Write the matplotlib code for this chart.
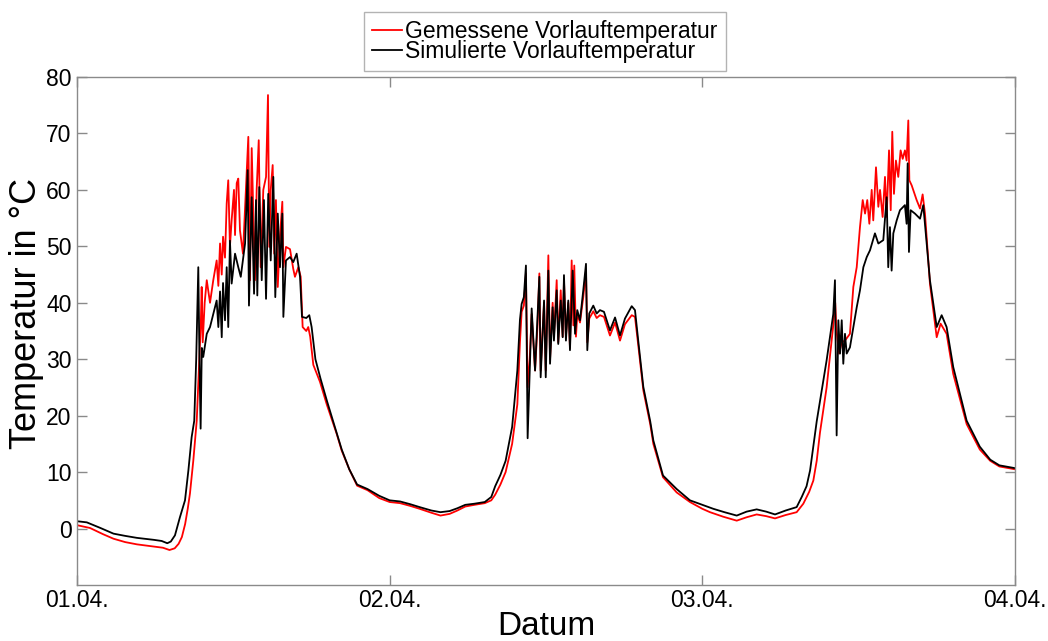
import matplotlib
matplotlib.use("Agg")
import matplotlib.pyplot as plt

# ---- data: (hour since 01.04. 00:00, temperature in °C) ----
gemessen_tag1 = [(0.0, 0.6), (1.0, 0.1), (2.0, -1.0), (2.8, -1.8), (3.7, -2.4), (4.6, -2.8), (5.9, -3.2),
                 (6.6, -3.4), (7.1, -3.8), (7.5, -3.5), (7.8, -2.7), (8.05, -1.5), (8.3, 0.8), (8.5, 3.5),
                 (8.67, 6.2), (8.93, 12.1), (9.19, 19.1), (9.35, 28), (9.5, 36), (9.57, 42.8), (9.65, 33),
                 (9.8, 40), (9.96, 44), (10.21, 40), (10.46, 44), (10.72, 47.5), (10.85, 43), (10.98, 50.5),
                 (11.11, 45), (11.21, 51.7), (11.36, 48), (11.49, 57.6), (11.61, 61.7), (11.74, 50),
                 (11.87, 54.6), (12.05, 60), (12.13, 52), (12.26, 61.2), (12.38, 62), (12.51, 52.8),
                 (12.74, 48.7), (13.15, 69.4), (13.28, 44), (13.41, 67.4), (13.66, 44), (13.79, 60),
                 (13.95, 68.8), (14.10, 46.3), (14.30, 60), (14.51, 62.3), (14.66, 76.8), (14.76, 49.9),
                 (14.87, 60), (15.02, 64.4), (15.14, 48.7), (15.27, 58.2), (15.41, 42.8), (15.58, 51.7),
                 (15.76, 57.9), (15.84, 46.3), (16.04, 49.9), (16.35, 49.5), (16.6, 46), (16.73, 44.6),
                 (16.99, 46.3), (17.17, 44.6), (17.32, 35.7), (17.6, 35.0), (17.75, 35.7), (17.9, 34),
                 (18.14, 29), (18.65, 26), (19.17, 22), (19.93, 16.8), (20.32, 13.8), (20.9, 10.5),
                 (21.5, 7.6), (22.3, 6.8), (23.2, 5.4)]
gemessen_tag2 = [(24.0, 4.7), (24.8, 4.5), (25.6, 4.0), (26.3, 3.5), (27.2, 2.8), (27.9, 2.3), (28.6, 2.6),
                 (29.2, 3.2), (29.8, 3.9), (30.5, 4.2), (31.3, 4.5), (31.8, 5.0), (32.1, 6.0), (32.5, 7.8),
                 (32.9, 10), (33.4, 15), (33.8, 22), (34.0, 33), (34.13, 38.4), (34.3, 39.5), (34.46, 45.2),
                 (34.59, 25), (34.75, 30), (34.90, 38), (35.16, 28), (35.35, 36), (35.49, 45.2), (35.59, 28),
                 (35.85, 40), (35.98, 28), (36.18, 48.4), (36.31, 30), (36.51, 40), (36.61, 34), (36.82, 44),
                 (36.94, 33), (37.13, 42.2), (37.28, 34), (37.38, 44), (37.53, 34), (37.71, 40), (37.84, 32),
                 (37.97, 47.5), (38.1, 36), (38.17, 46.6), (38.3, 34), (38.40, 38), (38.61, 36.5), (38.86, 41),
                 (39.07, 45.7), (39.17, 33), (39.32, 37.2), (39.63, 38.5), (39.89, 37.3), (40.14, 37.8),
                 (40.45, 37.5), (40.91, 34.2), (41.30, 36.5), (41.68, 33.3), (42.06, 36.2), (42.58, 37.8),
                 (42.83, 37.5), (43.08, 32.5), (43.47, 24.5), (44.0, 18.5), (44.24, 15), (44.98, 9.1),
                 (46.03, 6.4), (47.05, 4.7)]
gemessen_tag3 = [(48.0, 3.5), (48.59, 2.9), (49.6, 2.1), (50.64, 1.4), (51.4, 2.0), (52.17, 2.5), (52.9, 2.2),
                 (53.58, 1.8), (54.4, 2.4), (55.24, 2.9), (55.75, 4.4), (56.2, 6.5), (56.52, 8.5), (56.78, 12),
                 (57.03, 17), (57.54, 25), (58.05, 36), (58.2, 40), (58.3, 35), (58.5, 31), (58.7, 33),
                 (58.95, 33.3), (59.33, 34.5), (59.59, 42.8), (59.85, 46.3), (60.10, 53.4), (60.31, 58.2),
                 (60.49, 55.8), (60.66, 58.2), (60.82, 54), (61.00, 60), (61.12, 54.6), (61.33, 64),
                 (61.51, 57), (61.64, 60), (61.84, 55.2), (62.02, 62.3), (62.15, 55.2), (62.33, 67),
                 (62.46, 56.4), (62.58, 70.3), (62.71, 59.3), (62.86, 65.2), (63.04, 62.3), (63.22, 67),
                 (63.38, 65.5), (63.55, 67), (63.68, 65.2), (63.81, 72.3), (63.89, 61.7), (64.07, 60.8),
                 (64.45, 58.2), (64.71, 56.7), (64.91, 59.2), (65.09, 55.8), (65.47, 43.4), (65.99, 33.9),
                 (66.29, 36.3), (66.75, 34.5), (67.26, 27.4), (68.29, 18.5), (69.3, 14), (70.1, 12),
                 (70.8, 11), (72.0, 10.5)]

simuliert_tag1 = [(0.0, 1.3), (0.75, 1.1), (1.8, 0.1), (2.8, -0.9), (3.7, -1.3), (4.6, -1.65), (5.9, -2.0),
                  (6.5, -2.2), (6.93, -2.6), (7.2, -2.3), (7.52, -1.2), (7.9, 2.0), (8.29, 5), (8.55, 10.3),
                  (8.8, 16.2), (9.0, 19.1), (9.15, 30), (9.31, 46.3), (9.40, 30), (9.49, 17.7), (9.58, 32),
                  (9.69, 30.4), (9.96, 34.5), (10.21, 35.7), (10.46, 38), (10.72, 40.4), (10.85, 35.7),
                  (10.98, 42), (11.11, 33.9), (11.21, 43.5), (11.36, 36.9), (11.49, 46.3), (11.61, 35.7),
                  (11.74, 51), (11.87, 43.4), (12.13, 48.7), (12.38, 46.3), (12.57, 44.6), (12.90, 50.5),
                  (13.10, 63.5), (13.20, 39.5), (13.41, 58.7), (13.59, 41.6), (13.74, 58.2), (13.84, 41.3),
                  (13.99, 60.5), (14.18, 44), (14.35, 58.2), (14.51, 40.7), (14.68, 59.3), (14.87, 47.5),
                  (15.07, 62.3), (15.22, 41), (15.41, 55.8), (15.58, 46.3), (15.76, 55.8), (15.84, 37.5),
                  (16.04, 47.5), (16.35, 48.1), (16.60, 47.2), (16.86, 48.7), (17.12, 44.6), (17.27, 37.5),
                  (17.6, 37.3), (17.83, 37.8), (18.01, 35.7), (18.3, 30), (18.7, 26.5), (19.2, 22.5),
                  (19.93, 17), (20.32, 14), (20.9, 10.5), (21.5, 7.8), (22.3, 7.0), (23.2, 5.8)]
simuliert_tag2 = [(24.0, 5.0), (24.8, 4.8), (25.6, 4.3), (26.3, 3.8), (27.2, 3.2), (27.9, 2.9), (28.6, 3.1),
                  (29.2, 3.6), (29.8, 4.2), (30.5, 4.4), (31.3, 4.7), (31.8, 5.6), (32.1, 7.5), (32.5, 9.5),
                  (32.9, 12), (33.4, 18), (33.8, 28), (34.0, 37), (34.13, 39.8), (34.3, 41), (34.46, 46.6),
                  (34.59, 16), (34.90, 39), (35.16, 28), (35.49, 44.6), (35.59, 26.8), (35.85, 40.4),
                  (35.98, 26.8), (36.18, 45.7), (36.31, 29.2), (36.51, 39.2), (36.61, 33.3), (36.82, 42.2),
                  (36.94, 32.7), (37.13, 40.4), (37.28, 33.9), (37.38, 44.9), (37.53, 33.3), (37.71, 40.4),
                  (37.84, 31.6), (38.05, 45.7), (38.23, 34.5), (38.40, 38.7), (38.61, 36.9), (38.86, 42.2),
                  (39.07, 46.9), (39.17, 31.6), (39.32, 38.1), (39.63, 39.5), (39.89, 38.1), (40.14, 38.7),
                  (40.45, 38.4), (40.91, 35.1), (41.30, 37.4), (41.68, 34.2), (42.06, 37.2), (42.58, 39.4),
                  (42.83, 38.7), (43.08, 33.3), (43.47, 25.1), (44.0, 19), (44.24, 15.6), (44.98, 9.4),
                  (46.03, 7.0), (47.05, 5.0)]
simuliert_tag3 = [(48.0, 4.2), (48.84, 3.5), (49.7, 2.9), (50.64, 2.3), (51.4, 3.0), (52.17, 3.4), (52.9, 3.0),
                  (53.58, 2.5), (54.4, 3.2), (55.24, 3.8), (55.63, 5.6), (56.0, 7.5), (56.27, 10.3),
                  (56.78, 19), (57.54, 29.8), (58.05, 38), (58.18, 44), (58.31, 16.5), (58.44, 36.9),
                  (58.57, 31), (58.70, 36.9), (58.82, 29.2), (58.95, 34.5), (59.08, 31), (59.33, 32.1),
                  (59.59, 35.7), (59.85, 39.2), (60.10, 42.2), (60.36, 46.3), (60.62, 48.1), (60.87, 49.3),
                  (61.25, 52.3), (61.51, 50.5), (61.89, 51.1), (62.15, 58.7), (62.27, 46.3), (62.40, 53.4),
                  (62.53, 45.7), (62.66, 52.3), (62.92, 54.6), (63.17, 56.4), (63.55, 57.3), (63.68, 54),
                  (63.76, 64.7), (63.86, 49), (63.99, 56.4), (64.32, 55.8), (64.71, 54.9), (64.96, 57.3),
                  (65.22, 50.5), (65.47, 44), (65.99, 35.7), (66.37, 37.8), (66.75, 35.7), (67.26, 28.6),
                  (68.29, 19.1), (69.3, 14.5), (70.1, 12.2), (70.8, 11.2), (72.0, 10.7)]

x_ticks_h = [0, 24, 48, 72]
x_tick_labels = ["01.04.", "02.04.", "03.04.", "04.04."]
y_ticks = [0, 10, 20, 30, 40, 50, 60, 70, 80]
label_gemessen = "Gemessene Vorlauftemperatur"
label_simuliert = "Simulierte Vorlauftemperatur"

plt.rcParams["font.family"] = ["Liberation Sans", "DejaVu Sans"]

gem = gemessen_tag1 + gemessen_tag2 + gemessen_tag3
sim = simuliert_tag1 + simuliert_tag2 + simuliert_tag3
t_gem, v_gem = zip(*gem)
t_sim, v_sim = zip(*sim)

W, H = 1048, 641
fig = plt.figure(figsize=(W / 100, H / 100), dpi=100)
ax = fig.add_axes([77 / W, 1 - 585 / H, (1015 - 77) / W, (585 - 77) / H])

ax.plot(t_gem, v_gem, color="#ff0000", lw=1.3, label=label_gemessen)
ax.plot(t_sim, v_sim, color="#000000", lw=1.3, label=label_simuliert)

ax.set_xlim(0, 72)
ax.set_ylim(-10, 80)
ax.set_xticks(x_ticks_h)
ax.set_xticklabels(x_tick_labels)
ax.set_yticks(y_ticks)

grey = "#8a8a8a"
for s in ax.spines.values():
    s.set_color(grey)
    s.set_linewidth(1.0)
ax.tick_params(direction="in", length=7, width=1.0, color=grey, labelcolor="black",
               labelsize=16.5, top=True, right=True, pad=4)
ax.tick_params(axis="x", pad=3)

ax.set_xlabel("Datum", fontsize=24)
ax.xaxis.set_label_coords(0.5, -0.051)
ax.set_ylabel("Temperatur in °C", fontsize=26)
ax.yaxis.set_label_coords(-0.035, 0.535)

leg = fig.legend(loc="center", bbox_to_anchor=(545 / W, 1 - 41.5 / H), fontsize=16.5,
                 frameon=True, fancybox=False, handlelength=1.3, handletextpad=0.15,
                 labelspacing=-0.1, borderpad=0.35, borderaxespad=0)
leg.get_frame().set_edgecolor("#a0a0a0")
leg.get_frame().set_linewidth(1.0)

fig.savefig("out.png", dpi=100, facecolor="white")
